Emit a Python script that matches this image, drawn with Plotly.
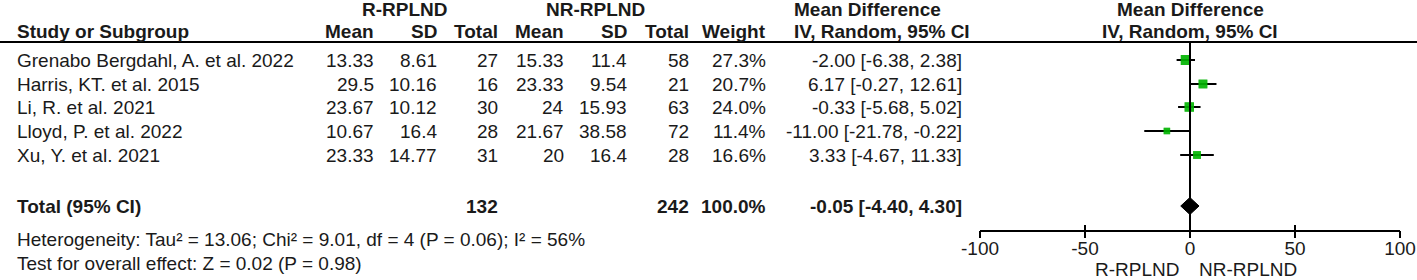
import plotly.graph_objects as go

# ---------------- data ----------------
studies = ["Grenabo Bergdahl, A. et al. 2022", "Harris, KT. et al. 2015", "Li, R. et al. 2021",
           "Lloyd, P. et al. 2022", "Xu, Y. et al. 2021"]
r_mean = [13.33, 29.5, 23.67, 10.67, 23.33]
r_sd = [8.61, 10.16, 10.12, 16.4, 14.77]
r_total = [27, 16, 30, 28, 31]
nr_mean = [15.33, 23.33, 24, 21.67, 20]
nr_sd = [11.4, 9.54, 15.93, 38.58, 16.4]
nr_total = [58, 21, 63, 72, 28]
weight = [27.3, 20.7, 24.0, 11.4, 16.6]
md = [-2.00, 6.17, -0.33, -11.00, 3.33]
md_lo = [-6.38, -0.27, -5.68, -21.78, -4.67]
md_hi = [2.38, 12.61, 5.02, -0.22, 11.33]

total_r = 132
total_nr = 242
total_weight = 100.0
total_md = -0.05
total_lo = -4.40
total_hi = 4.30

heterogeneity = "Heterogeneity: Tau² = 13.06; Chi² = 9.01, df = 4 (P = 0.06); I² = 56%"
overall = "Test for overall effect: Z = 0.02 (P = 0.98)"
tick_vals = [-100, -50, 0, 50, 100]
tick_labels = ["-100", "-50", "0", "50", "100"]
favours = ["R-RPLND", "NR-RPLND"]

# ---------------- layout constants (pixels) ----------------
W, H = 1417, 280
FONT = "Liberation Sans, Arial, sans-serif"
FS = 19
TXT = "#1a1a1a"
GREEN = "#00b400"
row_y = [60, 84, 107, 131, 155]
total_y = 206
het_y = 239
test_y = 263
axis_y = 230
header_line_y = 42
plot_x0, plot_x1 = 980, 1400


def px(x):
    return x / W


def py(y):
    return 1 - y / H


annotations = []


def txt(s, x, y, anchor="left", bold=False, size=FS):
    if bold:
        s = "<b>" + s + "</b>"
    annotations.append(dict(text=s, x=px(x), y=py(y), xref="paper", yref="paper",
                            xanchor=anchor, yanchor="middle", showarrow=False,
                            borderpad=0, font=dict(family=FONT, size=size, color=TXT)))


def fmt(v):
    return f"{v:g}"


# headers
txt("R-RPLND", 405, 9, "center", True)
txt("NR-RPLND", 595, 9, "center", True)
txt("Mean Difference", 793, 9, "left", True)
txt("Mean Difference", 1190, 9, "center", True)
txt("Study or Subgroup", 16, 31, "left", True)
for lab, xr in [("Mean", 375), ("SD", 438), ("Total", 499), ("Mean", 565), ("SD", 628),
                ("Total", 690), ("Weight", 767)]:
    txt(lab, xr, 31, "right", True)
txt("IV, Random, 95% CI", 793, 31, "left", True)
txt("IV, Random, 95% CI", 1190, 31, "center", True)

# study rows
for i, name in enumerate(studies):
    y = row_y[i]
    txt(name, 16, y)
    txt(fmt(r_mean[i]), 375, y, "right")
    txt(fmt(r_sd[i]), 438, y, "right")
    txt(str(r_total[i]), 499, y, "right")
    txt(fmt(nr_mean[i]), 565, y, "right")
    txt(fmt(nr_sd[i]), 628, y, "right")
    txt(str(nr_total[i]), 690, y, "right")
    txt(f"{weight[i]:.1f}%", 767, y, "right")
    txt(f"{md[i]:.2f} [{md_lo[i]:.2f}, {md_hi[i]:.2f}]", 963, y, "right")

# total row
txt("Total (95% CI)", 16, total_y, "left", True)
txt(str(total_r), 499, total_y, "right", True)
txt(str(total_nr), 690, total_y, "right", True)
txt(f"{total_weight:.1f}%", 767, total_y, "right", True)
txt(f"{total_md:.2f} [{total_lo:.2f}, {total_hi:.2f}]", 963, total_y, "right", True)
txt(heterogeneity, 16, het_y)
txt(overall, 16, test_y)

# favours labels
txt(favours[0], 1180, 269, "right")
txt(favours[1], 1198, 269, "left")

fig = go.Figure()

box_sizes = [1.92 * w ** 0.5 for w in weight]

# study CIs
fig.add_trace(go.Scatter(
    x=md, y=row_y, mode="markers",
    marker=dict(symbol="square", color=GREEN, size=box_sizes, line=dict(width=0)),
    error_x=dict(type="data", symmetric=False,
                 array=[h - m for h, m in zip(md_hi, md)],
                 arrayminus=[m - l for m, l in zip(md, md_lo)],
                 color="black", thickness=2, width=0),
    hoverinfo="skip", showlegend=False, xaxis="x", yaxis="y"))

# boxes above the error bars
fig.add_trace(go.Scatter(
    x=md, y=row_y, mode="markers",
    marker=dict(symbol="square", color=GREEN, size=box_sizes, line=dict(width=0)),
    hoverinfo="skip", showlegend=False, xaxis="x", yaxis="y"))

# total diamond
dh = 8.5
fig.add_trace(go.Scatter(
    x=[total_lo, total_md, total_hi, total_md, total_lo],
    y=[total_y, total_y - dh, total_y, total_y + dh, total_y],
    mode="lines", fill="toself", fillcolor="black", line=dict(color="black", width=1),
    hoverinfo="skip", showlegend=False, xaxis="x", yaxis="y"))

# invisible trace for the overlay axis carrying the lower half of the ticks
fig.add_trace(go.Scatter(x=[0], y=[axis_y], mode="markers", marker=dict(opacity=0),
                         hoverinfo="skip", showlegend=False, xaxis="x2", yaxis="y"))

shapes = [
    dict(type="line", xref="paper", yref="paper", x0=0, x1=1, y0=py(header_line_y),
         y1=py(header_line_y), line=dict(color="black", width=2)),
    dict(type="line", xref="x", yref="y", x0=0, x1=0, y0=header_line_y, y1=axis_y,
         line=dict(color="black", width=2)),
]

fig.update_layout(
    width=W, height=H, margin=dict(l=0, r=0, t=0, b=0, pad=0), autosize=False,
    paper_bgcolor="white", plot_bgcolor="rgba(0,0,0,0)",
    annotations=annotations, shapes=shapes,
    xaxis=dict(domain=[px(plot_x0), px(plot_x1)], range=[-100, 100], anchor="y",
               automargin=False,
               showgrid=False, zeroline=False, showline=True, linecolor="black", linewidth=2,
               ticks="inside", ticklen=5, tickwidth=2, tickcolor="black",
               tickvals=tick_vals, ticktext=tick_labels,
               tickfont=dict(family=FONT, size=FS, color=TXT)),
    xaxis2=dict(overlaying="x", range=[-100, 100], anchor="y", showgrid=False,
                automargin=False,
                zeroline=False, showline=False, ticks="outside", ticklen=7, tickwidth=2,
                tickcolor="black", tickvals=tick_vals, showticklabels=False),
    yaxis=dict(domain=[py(axis_y), 1], range=[axis_y, 0], visible=False, automargin=False,
               showgrid=False, zeroline=False),
)

fig.write_html(
    "out.html",
    config={"displayModeBar": False},
    post_script=("document.body.style.margin='0px';"
                 "document.body.style.overflow='hidden';"
                 "document.documentElement.style.overflow='hidden';"),
)
